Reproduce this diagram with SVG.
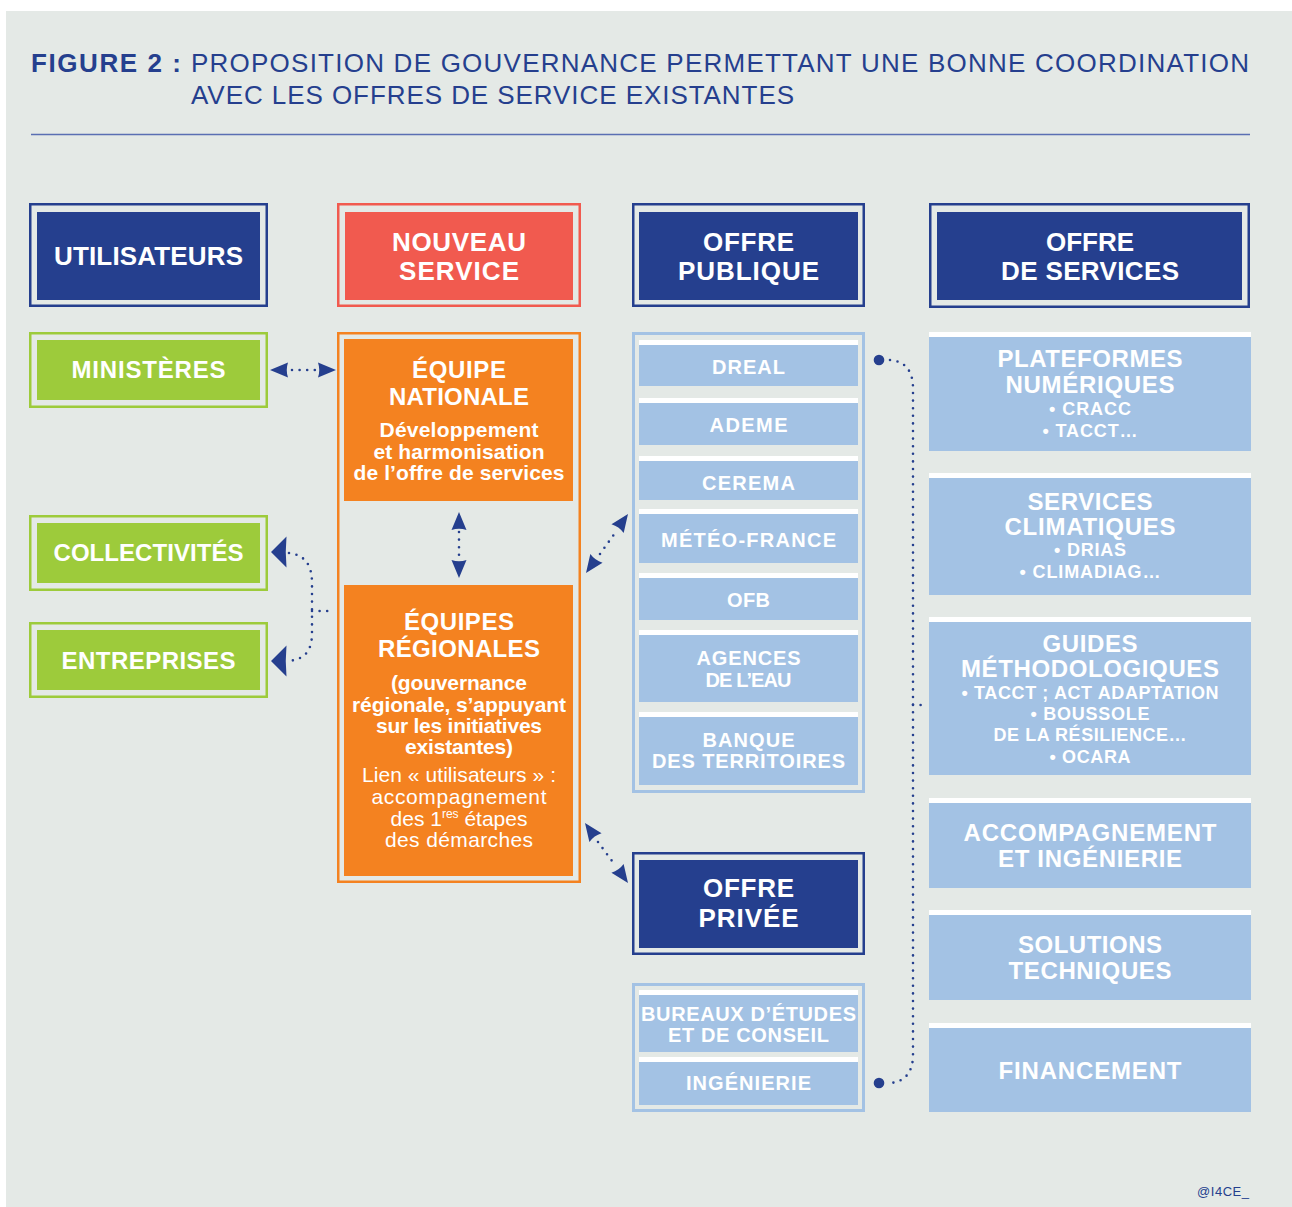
<svg xmlns="http://www.w3.org/2000/svg" xmlns:xlink="http://www.w3.org/1999/xlink" width="1292" height="1207" viewBox="0 0 1292 1207">
  <defs>
    <style>
      .bg { fill: #e4e9e6; }
      .frame-navy { fill: none; stroke: #253f8e; stroke-width: 2.5; }
      .frame-red { fill: none; stroke: #f15a4f; stroke-width: 2.5; }
      .frame-green { fill: none; stroke: #9dcb3b; stroke-width: 2.5; }
      .frame-orange { fill: none; stroke: #f48220; stroke-width: 2.5; }
      .frame-lb { fill: none; stroke: #a3c2e4; stroke-width: 3; }
      .navy { fill: #253f8e; }
      .red { fill: #f15a4f; }
      .green { fill: #9dcb3b; }
      .orange { fill: #f48220; }
      .lb { fill: #a3c2e4; }
      .stripe { fill: #ffffff; }
      text { font-family: "Liberation Sans", Arial, Helvetica, sans-serif; }
      .title-b { font-size: 26px; font-weight: bold; fill: #253f8e; }
      .title-r { font-size: 26px; fill: #253f8e; }
      .hdr { font-size: 26px; font-weight: bold; fill: #ffffff; text-anchor: middle; }
      .lbl { font-size: 24px; font-weight: bold; fill: #ffffff; text-anchor: middle; }
      .body-b { font-size: 21px; font-weight: bold; fill: #ffffff; text-anchor: middle; }
      .body-r { font-size: 21px; fill: #ffffff; text-anchor: middle; }
      .item { font-size: 20px; font-weight: bold; fill: #ffffff; text-anchor: middle; }
      .svc { font-size: 24px; font-weight: bold; fill: #ffffff; text-anchor: middle; }
      .bul { font-size: 18px; font-weight: bold; fill: #ffffff; text-anchor: middle; }
      .credit { font-size: 13px; fill: #253f8e; }
      .dots { fill: none; stroke: #253f8e; stroke-width: 2.6; stroke-linecap: round; stroke-dasharray: 0 7.6; }
      .head { fill: #253f8e; }
    </style>
    <!-- arrowheads, tip at the origin, pointing along +x -->
    <path id="ah" d="M0,0 L-18,-7.5 Q-15.5,0 -18,7.5 Z"/>
    <path id="ah-tall" d="M0,0 L-15.5,-15.5 Q-14,0 -15.5,15.5 Z"/>
  </defs>

  <!-- page -->
  <rect x="0" y="0" width="1292" height="1207" fill="#ffffff"/>
  <rect class="bg" x="6" y="11" width="1286" height="1196"/>

  <!-- heading -->
  <g id="heading">
    <text class="title-b" x="31" y="72" textLength="150">FIGURE 2 :</text>
    <text class="title-r" x="191" y="72" textLength="1058">PROPOSITION DE GOUVERNANCE PERMETTANT UNE BONNE COORDINATION</text>
    <text class="title-r" x="191" y="104" textLength="603">AVEC LES OFFRES DE SERVICE EXISTANTES</text>
    <line x1="31" y1="134.5" x2="1250" y2="134.5" stroke="#5a6fb3" stroke-width="1.3"/>
  </g>

  <!-- column headers -->
  <g id="hdr-utilisateurs">
    <rect class="frame-navy" x="30.25" y="204.25" width="236.5" height="101.5"/>
    <rect class="navy" x="37" y="212" width="223" height="88"/>
    <text class="hdr" x="148.5" y="265" textLength="189">UTILISATEURS</text>
  </g>
  <g id="hdr-nouveau-service">
    <rect class="frame-red" x="338.25" y="204.25" width="241.5" height="101.5"/>
    <rect class="red" x="345" y="212" width="228" height="88"/>
    <text class="hdr" x="459" y="251" textLength="134">NOUVEAU</text>
    <text class="hdr" x="459" y="280" textLength="120">SERVICE</text>
  </g>
  <g id="hdr-offre-publique">
    <rect class="frame-navy" x="633.25" y="204.25" width="230.5" height="101.5"/>
    <rect class="navy" x="639" y="212" width="219" height="88"/>
    <text class="hdr" x="748.5" y="251" textLength="91">OFFRE</text>
    <text class="hdr" x="748.5" y="280" textLength="141">PUBLIQUE</text>
  </g>
  <g id="hdr-offre-services">
    <rect class="frame-navy" x="930.25" y="204.25" width="318.5" height="102.5"/>
    <rect class="navy" x="937" y="212" width="305" height="88"/>
    <text class="hdr" x="1090" y="251" textLength="88">OFFRE</text>
    <text class="hdr" x="1090" y="280" textLength="178">DE SERVICES</text>
  </g>

  <!-- users -->
  <g id="ministeres">
    <rect class="frame-green" x="30.25" y="333.25" width="236.5" height="73.5"/>
    <rect class="green" x="37" y="340" width="223" height="60"/>
    <text class="lbl" x="148.5" y="378" textLength="154">MINISTÈRES</text>
  </g>
  <g id="collectivites">
    <rect class="frame-green" x="30.25" y="516.25" width="236.5" height="73.5"/>
    <rect class="green" x="37" y="523" width="223" height="60"/>
    <text class="lbl" x="148.5" y="561" textLength="190">COLLECTIVITÉS</text>
  </g>
  <g id="entreprises">
    <rect class="frame-green" x="30.25" y="623.25" width="236.5" height="73.5"/>
    <rect class="green" x="37" y="630" width="223" height="60"/>
    <text class="lbl" x="148.5" y="669" textLength="174">ENTREPRISES</text>
  </g>

  <!-- new service -->
  <g id="nouveau-service">
    <rect class="frame-orange" x="338.25" y="333.25" width="241.5" height="548.5"/>
  </g>
  <g id="equipe-nationale">
    <rect class="orange" x="344" y="339" width="229" height="162"/>
    <text class="lbl" x="459" y="378" textLength="94">ÉQUIPE</text>
    <text class="lbl" x="459" y="405" textLength="140">NATIONALE</text>
    <text class="body-b" x="459" y="437" textLength="159">Développement</text>
    <text class="body-b" x="459" y="459" textLength="171">et harmonisation</text>
    <text class="body-b" x="459" y="480" textLength="211">de l’offre de services</text>
  </g>
  <g id="equipes-regionales">
    <rect class="orange" x="344" y="585" width="229" height="291"/>
    <text class="lbl" x="459" y="630" textLength="110">ÉQUIPES</text>
    <text class="lbl" x="459" y="657" textLength="162">RÉGIONALES</text>
    <text class="body-b" x="459" y="690" textLength="136">(gouvernance</text>
    <text class="body-b" x="459" y="712" textLength="214">régionale, s’appuyant</text>
    <text class="body-b" x="459" y="733" textLength="166">sur les initiatives</text>
    <text class="body-b" x="459" y="754" textLength="108">existantes)</text>
    <text class="body-r" x="459" y="782" textLength="194">Lien « utilisateurs » :</text>
    <text class="body-r" x="459" y="804" textLength="175">accompagnement</text>
    <text class="body-r" x="459" y="826">des 1<tspan font-size="12" dy="-8">res</tspan><tspan dy="8"> étapes</tspan></text>
    <text class="body-r" x="459" y="847" textLength="148">des démarches</text>
  </g>

  <!-- public offer -->
  <g id="offre-publique">
    <rect class="frame-lb" x="633.5" y="333.5" width="230" height="458"/>
    <rect class="stripe" x="639" y="340" width="219" height="5"/>
    <rect class="lb" x="639" y="345" width="219" height="41"/>
    <text class="item" x="748.5" y="374" textLength="73">DREAL</text>
    <rect class="stripe" x="639" y="398" width="219" height="5"/>
    <rect class="lb" x="639" y="403" width="219" height="42"/>
    <text class="item" x="748.5" y="432" textLength="78">ADEME</text>
    <rect class="stripe" x="639" y="456" width="219" height="5"/>
    <rect class="lb" x="639" y="461" width="219" height="39"/>
    <text class="item" x="748.5" y="490" textLength="93">CEREMA</text>
    <rect class="stripe" x="639" y="509" width="219" height="5"/>
    <rect class="lb" x="639" y="514" width="219" height="49"/>
    <text class="item" x="748.5" y="547" textLength="175">MÉTÉO-FRANCE</text>
    <rect class="stripe" x="639" y="573" width="219" height="5"/>
    <rect class="lb" x="639" y="578" width="219" height="42"/>
    <text class="item" x="748.5" y="607" textLength="43">OFB</text>
    <rect class="stripe" x="639" y="630" width="219" height="5"/>
    <rect class="lb" x="639" y="635" width="219" height="67"/>
    <text class="item" x="748.5" y="665" textLength="104">AGENCES</text>
    <text class="item" x="748.5" y="687" textLength="86">DE L’EAU</text>
    <rect class="stripe" x="639" y="712" width="219" height="5"/>
    <rect class="lb" x="639" y="717" width="219" height="68"/>
    <text class="item" x="748.5" y="747" textLength="92">BANQUE</text>
    <text class="item" x="748.5" y="768" textLength="193">DES TERRITOIRES</text>
  </g>

  <!-- private offer -->
  <g id="hdr-offre-privee">
    <rect class="frame-navy" x="633.25" y="853.25" width="230.5" height="100.5"/>
    <rect class="navy" x="639" y="860" width="219" height="88"/>
    <text class="hdr" x="748.5" y="897" textLength="91">OFFRE</text>
    <text class="hdr" x="748.5" y="927" textLength="100">PRIVÉE</text>
  </g>
  <g id="offre-privee">
    <rect class="frame-lb" x="633.5" y="984.5" width="230" height="126"/>
    <rect class="stripe" x="639" y="990" width="219" height="5"/>
    <rect class="lb" x="639" y="995" width="219" height="57"/>
    <text class="item" x="748.5" y="1021" textLength="215">BUREAUX D’ÉTUDES</text>
    <text class="item" x="748.5" y="1042" textLength="161">ET DE CONSEIL</text>
    <rect class="stripe" x="639" y="1057" width="219" height="5"/>
    <rect class="lb" x="639" y="1062" width="219" height="43"/>
    <text class="item" x="748.5" y="1090" textLength="125">INGÉNIERIE</text>
  </g>

  <!-- service offer -->
  <g id="plateformes">
    <rect class="stripe" x="929" y="332" width="322" height="5"/>
    <rect class="lb" x="929" y="337" width="322" height="114"/>
    <text class="svc" x="1090" y="367" textLength="185">PLATEFORMES</text>
    <text class="svc" x="1090" y="393" textLength="169">NUMÉRIQUES</text>
    <text class="bul" x="1090" y="415" textLength="82">• CRACC</text>
    <text class="bul" x="1090" y="437" textLength="95">• TACCT…</text>
  </g>
  <g id="services-climatiques">
    <rect class="stripe" x="929" y="473" width="322" height="5"/>
    <rect class="lb" x="929" y="478" width="322" height="117"/>
    <text class="svc" x="1090" y="510" textLength="125">SERVICES</text>
    <text class="svc" x="1090" y="535" textLength="171">CLIMATIQUES</text>
    <text class="bul" x="1090" y="556" textLength="72">• DRIAS</text>
    <text class="bul" x="1090" y="578" textLength="141">• CLIMADIAG…</text>
  </g>
  <g id="guides">
    <rect class="stripe" x="929" y="617" width="322" height="5"/>
    <rect class="lb" x="929" y="622" width="322" height="153"/>
    <text class="svc" x="1090" y="652" textLength="95">GUIDES</text>
    <text class="svc" x="1090" y="677" textLength="258">MÉTHODOLOGIQUES</text>
    <text class="bul" x="1090" y="699" textLength="257">• TACCT ; ACT ADAPTATION</text>
    <text class="bul" x="1090" y="720" textLength="119">• BOUSSOLE</text>
    <text class="bul" x="1090" y="741" textLength="193">DE LA RÉSILIENCE…</text>
    <text class="bul" x="1090" y="763" textLength="81">• OCARA</text>
  </g>
  <g id="accompagnement">
    <rect class="stripe" x="929" y="798" width="322" height="5"/>
    <rect class="lb" x="929" y="803" width="322" height="85"/>
    <text class="svc" x="1090" y="841" textLength="253">ACCOMPAGNEMENT</text>
    <text class="svc" x="1090" y="867" textLength="184">ET INGÉNIERIE</text>
  </g>
  <g id="solutions">
    <rect class="stripe" x="929" y="910" width="322" height="5"/>
    <rect class="lb" x="929" y="915" width="322" height="85"/>
    <text class="svc" x="1090" y="953" textLength="144">SOLUTIONS</text>
    <text class="svc" x="1090" y="979" textLength="163">TECHNIQUES</text>
  </g>
  <g id="financement">
    <rect class="stripe" x="929" y="1023" width="322" height="5"/>
    <rect class="lb" x="929" y="1028" width="322" height="84"/>
    <text class="svc" x="1090" y="1079" textLength="183">FINANCEMENT</text>
  </g>

  <!-- connectors -->
  <g id="connectors">
    <!-- ministères / équipe nationale -->
    <path class="dots" d="M292,370 L316,370"/>
    <use href="#ah" xlink:href="#ah" class="head" transform="translate(270,370) rotate(180)"/>
    <use href="#ah" xlink:href="#ah" class="head" transform="translate(336,370)"/>

    <!-- équipe nationale / équipes régionales -->
    <path class="dots" d="M459,532 L459,558"/>
    <use href="#ah" xlink:href="#ah" class="head" transform="translate(459,512) rotate(-90)"/>
    <use href="#ah" xlink:href="#ah" class="head" transform="translate(459,578) rotate(90)"/>

    <!-- collectivités + entreprises bracket -->
    <path class="dots" d="M289,553 C305,555 312,565 312,583 L312,633 C312,651 305,659 289,661"/>
    <path class="dots" d="M312,611 L333,611"/>
    <use href="#ah-tall" xlink:href="#ah-tall" class="head" transform="translate(271,552) rotate(180)"/>
    <use href="#ah-tall" xlink:href="#ah-tall" class="head" transform="translate(271,661) rotate(180)"/>

    <!-- nouveau service / offre publique -->
    <path class="dots" d="M600,554 L615,533"/>
    <use href="#ah" xlink:href="#ah" class="head" transform="translate(628,514) rotate(-54.6)"/>
    <use href="#ah" xlink:href="#ah" class="head" transform="translate(586,573) rotate(125.4)"/>

    <!-- nouveau service / offre privée -->
    <path class="dots" d="M598,842 L615,865"/>
    <use href="#ah" xlink:href="#ah" class="head" transform="translate(585,823) rotate(-125.6)"/>
    <use href="#ah" xlink:href="#ah" class="head" transform="translate(628,883) rotate(54.4)"/>

    <!-- offres publique / privée to offre de services -->
    <path class="dots" d="M890,360 C905,361 913,371 913,388 L913,1055 C913,1072 905,1082 890,1083"/>
    <path class="dots" d="M913,705 L928,705"/>
    <circle class="head" cx="879" cy="360" r="5.3"/>
    <circle class="head" cx="879" cy="1083" r="5.3"/>
  </g>

  <text class="credit" x="1197" y="1196" textLength="52">@I4CE_</text>
</svg>
